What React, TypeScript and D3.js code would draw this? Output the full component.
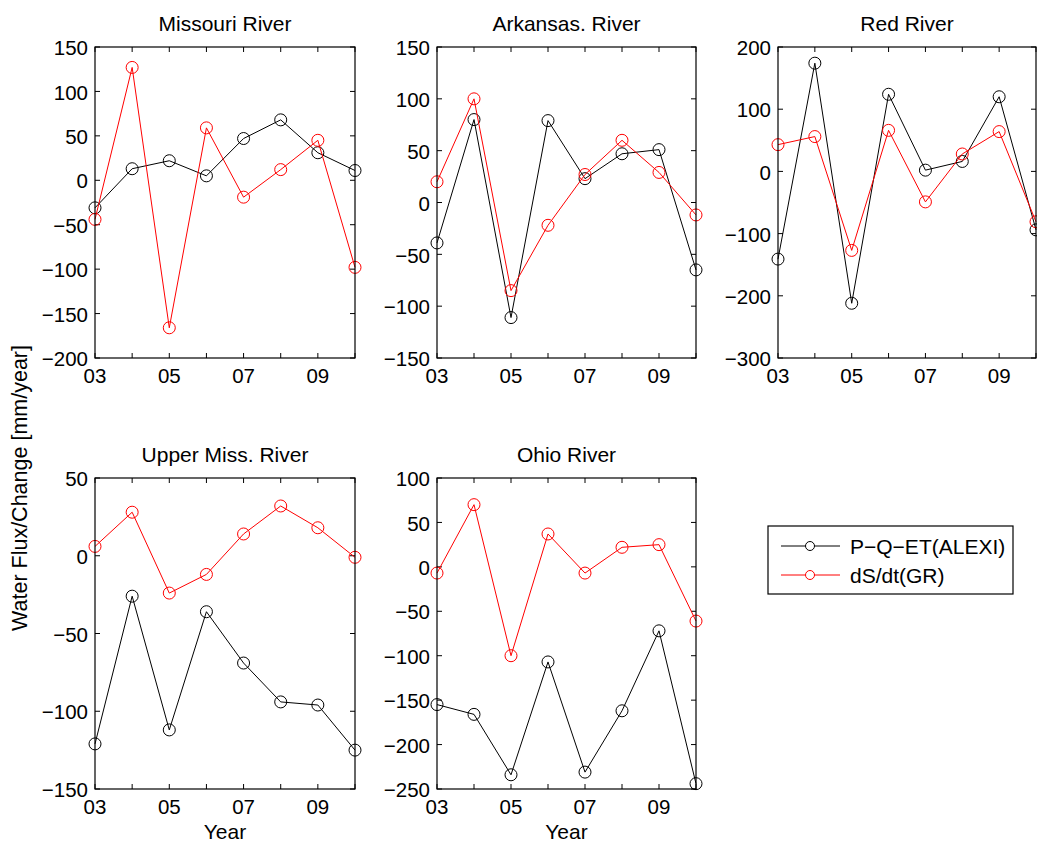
import React from "react";
import * as d3 from "d3";

const years = [2003, 2004, 2005, 2006, 2007, 2008, 2009, 2010];
const labeledYears = [2003, 2005, 2007, 2009];

const titles = ["Missouri River", "Arkansas. River", "Red River", "Upper Miss. River", "Ohio River"];

const missouriPQET = [-31, 13, 22, 5, 47, 68, 31, 11];
const missouriDSDT = [-44, 127, -166, 59, -19, 12, 45, -98];
const arkansasPQET = [-39, 80, -111, 79, 23, 47, 51, -65];
const arkansasDSDT = [20, 100, -85, -22, 27, 60, 29, -12];
const redPQET = [-141, 174, -212, 124, 2, 16, 120, -94];
const redDSDT = [43, 56, -127, 66, -49, 28, 64, -81];
const upperMissPQET = [-121, -26, -112, -36, -69, -94, -96, -125];
const upperMissDSDT = [6, 28, -24, -12, 14, 32, 18, -1];
const ohioPQET = [-155, -166, -234, -107, -231, -162, -72, -244];
const ohioDSDT = [-7, 70, -100, 37, -7, 22, 25, -61];

const yDomains: [number, number][] = [[-200, 150], [-150, 150], [-300, 200], [-150, 50], [-250, 100]];
const yTickSteps = [50, 50, 100, 50, 50];

const seriesNames = ["P\u2212Q\u2212ET(ALEXI)", "dS/dt(GR)"];
const seriesColors = ["#000000", "#ff0000"];

const pqet = [missouriPQET, arkansasPQET, redPQET, upperMissPQET, ohioPQET];
const dsdt = [missouriDSDT, arkansasDSDT, redDSDT, upperMissDSDT, ohioDSDT];

const colsX = [[95, 355], [437, 696], [778, 1036]];
const rowsY = [[47, 358], [478, 789]];
const FONT = "'Liberation Sans', Arial, Helvetica, sans-serif";

function Panel({ idx }: { idx: number }) {
  const col = idx % 3;
  const row = Math.floor(idx / 3);
  const [x0, x1] = colsX[col];
  const [y0, y1] = rowsY[row];
  const x = d3.scaleLinear().domain([2003, 2010]).range([x0, x1]);
  const y = d3.scaleLinear().domain(yDomains[idx]).range([y1, y0]);
  const yt = d3.range(yDomains[idx][0], yDomains[idx][1] + 0.001, yTickSteps[idx]);
  const fmt = d3.format("d");
  const line = d3.line<number>().x((_, i) => x(years[i])).y((d) => y(d));
  const tl = 5;
  const data = [pqet[idx], dsdt[idx]];
  return (
    <g>
      <text x={(x0 + x1) / 2} y={row === 0 ? 31 : 462} textAnchor="middle" fontSize={21} fontFamily={FONT} fill="#000">
        {titles[idx]}
      </text>
      {years.map((yr) => (
        <g key={"xt" + yr}>
          <line x1={x(yr)} x2={x(yr)} y1={y1} y2={y1 - tl} stroke="#000" strokeWidth={1} />
          <line x1={x(yr)} x2={x(yr)} y1={y0} y2={y0 + tl} stroke="#000" strokeWidth={1} />
        </g>
      ))}
      {labeledYears.map((yr) => (
        <text key={"xl" + yr} x={x(yr)} y={y1 + 25} textAnchor="middle" fontSize={20.5} fontFamily={FONT} fill="#000">
          {String(yr % 100).padStart(2, "0")}
        </text>
      ))}
      {yt.map((v) => (
        <g key={"yt" + v}>
          <line x1={x0} x2={x0 + tl} y1={y(v)} y2={y(v)} stroke="#000" strokeWidth={1} />
          <line x1={x1} x2={x1 - tl} y1={y(v)} y2={y(v)} stroke="#000" strokeWidth={1} />
          <text x={x0 - 7} y={y(v)} dy="0.4em" textAnchor="end" fontSize={20.5} fontFamily={FONT} fill="#000">
            {fmt(v)}
          </text>
        </g>
      ))}
      {data.map((s, si) => (
        <g key={"s" + si}>
          <path d={line(s) || ""} fill="none" stroke={seriesColors[si]} strokeWidth={1} />
          {s.map((v, i) => (
            <circle key={i} cx={x(years[i])} cy={y(v)} r={6} fill="none" stroke={seriesColors[si]} strokeWidth={1} />
          ))}
        </g>
      ))}
      <rect x={x0} y={y0} width={x1 - x0} height={y1 - y0} fill="none" stroke="#000" strokeWidth={1.2} />
      {row === 1 && (
        <text x={(x0 + x1) / 2} y={839} textAnchor="middle" fontSize={21} fontFamily={FONT} fill="#000">
          Year
        </text>
      )}
    </g>
  );
}

export default function App() {
  return (
    <svg width={1037} height={845} style={{ position: "absolute", left: 0, top: 0, background: "#fff" }}>
      <rect x={0} y={0} width={1037} height={845} fill="#fff" />
      {titles.map((_, i) => (
        <Panel key={i} idx={i} />
      ))}
      <text transform="translate(27,488) rotate(-90)" textAnchor="middle" fontSize={21.5} fontFamily={FONT} fill="#000">
        Water Flux/Change [mm/year]
      </text>
      <g>
        <rect x={768} y={526} width={245} height={68} fill="#fff" stroke="#000" strokeWidth={1.2} />
        {seriesNames.map((n, i) => {
          const cy = 546 + i * 29;
          return (
            <g key={n}>
              <line x1={781} x2={840} y1={cy} y2={cy} stroke={seriesColors[i]} strokeWidth={1} />
              <circle cx={810} cy={cy} r={4.5} fill="#fff" stroke={seriesColors[i]} strokeWidth={1} />
              <text x={850} y={cy} dy="0.36em" fontSize={21} fontFamily={FONT} fill="#000">
                {n}
              </text>
            </g>
          );
        })}
      </g>
    </svg>
  );
}
